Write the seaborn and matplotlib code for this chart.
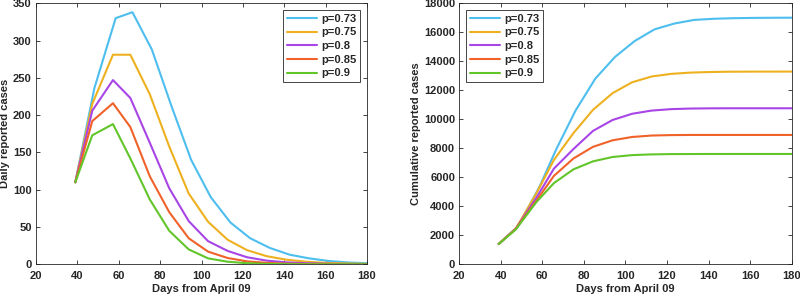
import matplotlib
matplotlib.use("Agg")
import matplotlib.pyplot as plt
import seaborn as sns
import pandas as pd

# ---------------- data ----------------
labels = ["p=0.73", "p=0.75", "p=0.8", "p=0.85", "p=0.9"]
colors = ["#4DBEEE", "#EDB120", "#A845E6", "#F0622A", "#62C52A"]

days_blue = [39, 48.2, 58.5, 66.6, 76, 85.5, 95, 104.5, 114, 123.5, 133, 142.5, 152, 161.5, 171, 180]
days_other = [39, 47.2, 57.2, 65.6, 75, 84.4, 93.8, 103.2, 112.6, 122, 131.4, 140.8, 150.2, 159.6, 169, 180]

daily_073 = [110, 236, 330, 338, 288, 212, 140, 90, 56, 35, 22, 13, 8, 4.5, 2.5, 1.5]
daily_075 = [110, 215, 281, 281, 228, 158, 95, 57, 33, 19, 11, 6.3, 3.6, 2, 1.2, 0.6]
daily_080 = [110, 206, 247, 223, 163, 102, 58, 31, 18, 9.5, 5, 2.7, 1.5, 0.8, 0.45, 0.2]
daily_085 = [110, 192, 216, 184, 118, 70, 35, 17, 8.5, 4, 2, 1, 0.5, 0.3, 0.15, 0.1]
daily_090 = [110, 173, 188, 142, 87, 45, 20, 8, 3.5, 1.5, 0.6, 0.3, 0.1, 0.05, 0.02, 0.0]

cum_073 = [1400, 2600, 5300, 7900, 10600, 12800, 14300, 15400, 16200, 16600, 16850, 16930, 16970, 16990, 17000, 17005]
cum_075 = [1400, 2450, 4900, 7200, 9050, 10650, 11800, 12550, 12950, 13130, 13220, 13260, 13280, 13285, 13287, 13290]
cum_080 = [1400, 2450, 4600, 6600, 7950, 9200, 9950, 10380, 10600, 10700, 10740, 10755, 10760, 10760, 10760, 10760]
cum_085 = [1400, 2450, 4400, 6100, 7300, 8100, 8550, 8780, 8880, 8910, 8920, 8920, 8920, 8920, 8920, 8920]
cum_090 = [1400, 2400, 4300, 5600, 6550, 7100, 7400, 7530, 7580, 7600, 7605, 7608, 7609, 7609, 7609, 7609]

x_ticks = [20, 40, 60, 80, 100, 120, 140, 160, 180]
y_ticks_daily = [0, 50, 100, 150, 200, 250, 300, 350]
y_ticks_cum = list(range(0, 18001, 2000))

# ---------------- frame ----------------
series_days = [days_blue, days_other, days_other, days_other, days_other]
daily = [daily_073, daily_075, daily_080, daily_085, daily_090]
cum = [cum_073, cum_075, cum_080, cum_085, cum_090]

rows = []
for lab, d, yd, yc in zip(labels, series_days, daily, cum):
    for i in range(len(d)):
        rows.append({"day": d[i], "daily": yd[i], "cum": yc[i], "p": lab})
df = pd.DataFrame(rows)

sns.set_theme(style="ticks")
plt.rcParams["font.family"] = ["Liberation Sans", "DejaVu Sans"]
plt.rcParams["font.weight"] = "bold"

fig = plt.figure(figsize=(8.0, 2.96), dpi=100)
ax1 = fig.add_axes([0.045, 0.107, 0.41375, 0.882])
ax2 = fig.add_axes([0.574, 0.107, 0.4155, 0.882])

palette = dict(zip(labels, colors))
FS = 8.0

for ax, col, yt, ylim, ylab, loc in [
    (ax1, "daily", y_ticks_daily, (0, 350), "Daily reported cases", "upper right"),
    (ax2, "cum", y_ticks_cum, (0, 18000), "Cumulative reported cases", "upper left"),
]:
    sns.lineplot(data=df, x="day", y=col, hue="p", hue_order=labels, palette=palette,
                 estimator=None, sort=False, linewidth=1.5, ax=ax)
    ax.set_xlim(20, 180)
    ax.set_ylim(*ylim)
    ax.set_xticks(x_ticks)
    ax.set_yticks(yt)
    ax.set_xlabel("Days from April 09", fontsize=FS, fontweight="bold", labelpad=2)
    ax.set_ylabel(ylab, fontsize=FS, fontweight="bold", labelpad=2)
    ax.tick_params(direction="in", length=3, width=0.6, labelsize=FS,
                   top=True, right=True, colors="#262626")
    ax.tick_params(axis="x", pad=5)
    ax.tick_params(axis="y", pad=3)
    for lab_ in ax.get_xticklabels() + ax.get_yticklabels():
        lab_.set_fontweight("bold")
    for s in ax.spines.values():
        s.set_visible(True)
        s.set_linewidth(0.6)
        s.set_color("#262626")
    leg = ax.legend(loc=loc, frameon=True, fancybox=False, framealpha=1,
                    edgecolor="#262626", handlelength=2.7, handletextpad=0.4,
                    borderpad=0.35, labelspacing=0.33, borderaxespad=0.6,
                    prop={"weight": "bold", "size": FS})
    leg.get_frame().set_linewidth(0.6)
    for line in leg.get_lines():
        line.set_linewidth(1.5)

fig.savefig("out.png", dpi=100)
